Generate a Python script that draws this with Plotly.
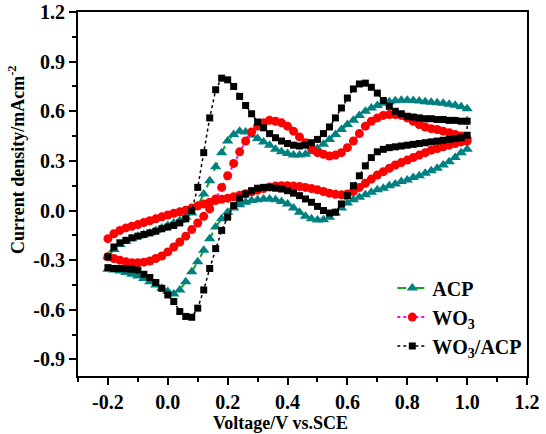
import plotly.graph_objects as go

# Sweep potential (V vs. SCE), 0.02 V steps
voltage = [-0.20, -0.18, -0.16, -0.14, -0.12, -0.10, -0.08, -0.06, -0.04, -0.02,
           0.00, 0.02, 0.04, 0.06, 0.08, 0.10, 0.12, 0.14, 0.16, 0.18,
           0.20, 0.22, 0.24, 0.26, 0.28, 0.30, 0.32, 0.34, 0.36, 0.38,
           0.40, 0.42, 0.44, 0.46, 0.48, 0.50, 0.52, 0.54, 0.56, 0.58,
           0.60, 0.62, 0.64, 0.66, 0.68, 0.70, 0.72, 0.74, 0.76, 0.78,
           0.80, 0.82, 0.84, 0.86, 0.88, 0.90, 0.92, 0.94, 0.96, 0.98, 1.00]

# ACP: anodic (forward) and cathodic (reverse) branches, listed by ascending voltage
acp_anodic = [-0.280, -0.235, -0.205, -0.185, -0.170, -0.155, -0.145, -0.135, -0.120, -0.105,
              -0.090, -0.075, -0.060, -0.040, -0.015, 0.030, 0.100, 0.180, 0.265, 0.350,
              0.420, 0.460, 0.480, 0.475, 0.455, 0.435, 0.415, 0.395, 0.370, 0.355,
              0.345, 0.335, 0.335, 0.340, 0.355, 0.375, 0.400, 0.430, 0.460, 0.490,
              0.520, 0.545, 0.575, 0.600, 0.620, 0.635, 0.648, 0.657, 0.663, 0.667,
              0.667, 0.665, 0.662, 0.658, 0.655, 0.652, 0.648, 0.643, 0.636, 0.627, 0.615]
acp_cathodic = [-0.355, -0.360, -0.365, -0.375, -0.385, -0.395, -0.410, -0.430, -0.450, -0.470,
                -0.490, -0.505, -0.480, -0.430, -0.370, -0.310, -0.240, -0.170, -0.100, -0.050,
                -0.010, 0.015, 0.035, 0.050, 0.060, 0.065, 0.070, 0.070, 0.065, 0.055,
                0.040, 0.015, -0.010, -0.035, -0.050, -0.057, -0.055, -0.040, -0.015, 0.015,
                0.045, 0.065, 0.080, 0.095, 0.110, 0.125, 0.135, 0.150, 0.160, 0.175,
                0.185, 0.200, 0.210, 0.225, 0.240, 0.255, 0.275, 0.295, 0.320, 0.350, 0.370]

# WO3
wo3_anodic = [-0.280, -0.290, -0.300, -0.310, -0.315, -0.315, -0.312, -0.305, -0.290, -0.275,
              -0.250, -0.220, -0.190, -0.155, -0.115, -0.075, -0.035, 0.010, 0.070, 0.140,
              0.210, 0.285, 0.355, 0.420, 0.475, 0.510, 0.530, 0.545, 0.540, 0.530,
              0.510, 0.480, 0.445, 0.410, 0.375, 0.350, 0.340, 0.330, 0.335, 0.350,
              0.380, 0.420, 0.465, 0.510, 0.540, 0.560, 0.575, 0.580, 0.580, 0.575,
              0.560, 0.540, 0.520, 0.505, 0.495, 0.490, 0.480, 0.470, 0.460, 0.450, 0.435]
wo3_cathodic = [-0.170, -0.140, -0.120, -0.105, -0.095, -0.085, -0.072, -0.062, -0.050, -0.038,
                -0.027, -0.017, -0.008, 0.002, 0.015, 0.028, 0.040, 0.050, 0.060, 0.068,
                0.075, 0.083, 0.092, 0.102, 0.113, 0.123, 0.133, 0.142, 0.148, 0.150,
                0.150, 0.148, 0.145, 0.140, 0.133, 0.125, 0.115, 0.105, 0.098, 0.095,
                0.100, 0.115, 0.140, 0.165, 0.190, 0.215, 0.235, 0.255, 0.275, 0.290,
                0.305, 0.320, 0.335, 0.350, 0.365, 0.375, 0.385, 0.395, 0.405, 0.415, 0.420]

# WO3/ACP
comp_anodic = [-0.280, -0.220, -0.195, -0.180, -0.165, -0.155, -0.145, -0.135, -0.125, -0.110,
               -0.100, -0.090, -0.075, -0.050, 0.000, 0.140, 0.350, 0.560, 0.730, 0.800,
               0.790, 0.750, 0.690, 0.635, 0.585, 0.535, 0.500, 0.465, 0.440, 0.420,
               0.405, 0.395, 0.390, 0.395, 0.410, 0.430, 0.465, 0.505, 0.560, 0.620,
               0.680, 0.735, 0.765, 0.770, 0.745, 0.710, 0.665, 0.630, 0.600, 0.585,
               0.570, 0.565, 0.560, 0.555, 0.555, 0.550, 0.550, 0.545, 0.545, 0.540, 0.540]
comp_cathodic = [-0.345, -0.350, -0.350, -0.352, -0.355, -0.360, -0.385, -0.405, -0.435, -0.470,
                 -0.510, -0.550, -0.610, -0.640, -0.645, -0.590, -0.480, -0.350, -0.230, -0.120,
                 -0.040, 0.030, 0.075, 0.100, 0.120, 0.135, 0.140, 0.140, 0.135, 0.130,
                 0.120, 0.105, 0.090, 0.070, 0.050, 0.025, 0.000, -0.015, -0.010, 0.040,
                 0.090, 0.150, 0.210, 0.270, 0.320, 0.355, 0.370, 0.380, 0.385, 0.390,
                 0.395, 0.400, 0.405, 0.410, 0.415, 0.420, 0.425, 0.430, 0.435, 0.440, 0.455]

# Tick labels (hyphen minus, as in the original)
x_tick_vals = [-0.2, 0.0, 0.2, 0.4, 0.6, 0.8, 1.0, 1.2]
x_tick_text = ["-0.2", "0.0", "0.2", "0.4", "0.6", "0.8", "1.0", "1.2"]
y_tick_vals = [-0.9, -0.6, -0.3, 0.0, 0.3, 0.6, 0.9, 1.2]
y_tick_text = ["-0.9", "-0.6", "-0.3", "0.0", "0.3", "0.6", "0.9", "1.2"]

x_title = "Voltage/V vs.SCE"
y_title = "Current density/mAcm<sup>-2</sup>"

FONT = "Liberation Serif, Times New Roman, serif"


def loop(anodic, cathodic):
    """Closed CV loop: forward sweep, then reverse sweep back to start."""
    return voltage + voltage[::-1], anodic + cathodic[::-1]


fig = go.Figure()

series = [
    ("ACP", acp_anodic, acp_cathodic, "#008080", "#16a516", "dash", 2, "triangle-up", 10),
    ("WO<sub>3</sub>", wo3_anodic, wo3_cathodic, "#ff0000", "#ff00ff", "dot", 2, "circle", 9),
    ("WO<sub>3</sub>/ACP", comp_anodic, comp_cathodic, "#000000", "#000000", "dot", 1.5, "square", 7),
]
for name, an, ca, mcol, lcol, dash, lw, sym, size in series:
    x, y = loop(an, ca)
    fig.add_trace(go.Scatter(
        x=x, y=y, name="<b>%s</b>" % name, mode="lines+markers",
        line=dict(color=lcol, dash=dash, width=lw),
        marker=dict(symbol=sym, size=size, color=mcol, line=dict(width=0)),
    ))

axis_common = dict(
    showline=True, linecolor="black", linewidth=2, mirror=True,
    ticks="outside", ticklen=7, tickwidth=1.5, tickcolor="black",
    showgrid=False, zeroline=False,
    tickfont=dict(family=FONT, size=20, color="black"),
    tickmode="array", automargin=False,
)

fig.update_xaxes(
    range=[-0.3, 1.2],
    tickvals=x_tick_vals, ticktext=["<b>%s</b>" % t for t in x_tick_text],
    minor=dict(tickmode="linear", tick0=0, dtick=0.1, ticklen=4, tickwidth=1.5, tickcolor="black", ticks="outside"),
    **axis_common,
)
fig.update_yaxes(
    range=[-1.0, 1.2],
    tickvals=y_tick_vals, ticktext=["<b>%s</b>" % t for t in y_tick_text],
    minor=dict(tickmode="linear", tick0=0, dtick=0.15, ticklen=4, tickwidth=1.5, tickcolor="black", ticks="outside"),
    **axis_common,
)

title_font = dict(family=FONT, size=18, color="black")
fig.add_annotation(
    text="<b>%s</b>" % x_title, xref="paper", yref="paper",
    x=(280 - 78) / 449, y=-(423 - 376) / 364, xanchor="center", yanchor="middle",
    showarrow=False, font=title_font,
)
fig.add_annotation(
    text="<b>%s</b>" % y_title, xref="paper", yref="paper",
    x=-(78 - 16) / 449, y=(376 - 160) / 364, xanchor="center", yanchor="middle",
    textangle=-90, showarrow=False, font=title_font,
)

fig.update_layout(
    width=546, height=434,
    margin=dict(l=78, r=19, t=12, b=58, autoexpand=False),
    plot_bgcolor="white", paper_bgcolor="white",
    legend=dict(
        x=0.70, y=0.295, xanchor="left", yanchor="top",
        bgcolor="rgba(0,0,0,0)", borderwidth=0,
        font=dict(family=FONT, size=20, color="black"),
        tracegroupgap=0,
    ),
)

fig.write_html("out.html")
